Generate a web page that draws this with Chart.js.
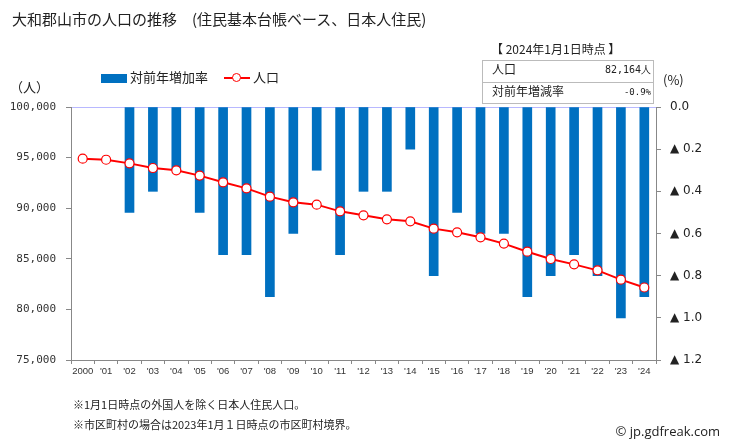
<!DOCTYPE html>
<html>
<head>
<meta charset="utf-8">
<script src="https://cdn.jsdelivr.net/npm/chart.js@4/dist/chart.umd.min.js"></script>
<style>
  html, body { margin: 0; padding: 0; background: #fff; }
  #wrap { position: relative; width: 729px; height: 446px; overflow: hidden; font-family: "Noto Sans CJK JP", "Noto Sans", sans-serif; color: #222; }
  #c { position: absolute; left: 0; top: 0; }
  .t { position: absolute; white-space: nowrap; line-height: 1; }
</style>
</head>
<body>
<div id="wrap">
  <canvas id="c" width="729" height="446"></canvas>
  <div class="t" style="left:12px; top:11px; font-size:15px; color:#222;">大和郡山市の人口の推移　(住民基本台帳ベース、日本人住民)</div>

  <div style="position:absolute; left:101px; top:74px; width:26px; height:9px; background:#0070c0;"></div>
  <div class="t" style="left:130px; top:70px; font-size:13px;">対前年増加率</div>
  <div style="position:absolute; left:224px; top:77px; width:26px; height:2px; background:#ff0000;"></div>
  <div style="position:absolute; left:232px; top:73px; width:7px; height:7px; border:1.5px solid #ff0000; border-radius:50%; background:#fff;"></div>
  <div class="t" style="left:253px; top:70px; font-size:13px;">人口</div>

  <div class="t" style="left:10px; top:80px; font-size:13px;">（人）</div>
  <div class="t" style="left:663px; top:73px; font-size:13px;">(%)</div>

  <div class="t" style="left:491px; top:43px; font-size:12px;">【 2024年1月1日時点 】</div>
  <div style="position:absolute; left:482px; top:60px; width:172px; height:44px; border:1px solid #bbb; box-sizing:border-box;"></div>
  <div style="position:absolute; left:482px; top:82px; width:172px; height:1px; background:#bbb;"></div>
  <div class="t" style="left:492px; top:63px; font-size:12px;">人口</div>
  <div class="t" style="left:600px; width:51px; text-align:right; top:65px; font-size:10px; font-family:'DejaVu Sans Mono', monospace;">82,164人</div>
  <div class="t" style="left:492px; top:85px; font-size:12px;">対前年増減率</div>
  <div class="t" style="left:600px; width:51px; text-align:right; top:88px; font-size:9px; font-family:'DejaVu Sans Mono', monospace;">-0.9%</div>

  <div class="t" style="left:73px; top:399px; font-size:11px;">※1月1日時点の外国人を除く日本人住民人口。</div>
  <div class="t" style="left:73px; top:419px; font-size:11px;">※市区町村の場合は2023年1月１日時点の市区町村境界。</div>
  <div class="t" style="right:9px; top:425px; font-size:13px; font-family:'Open Sans','DejaVu Sans',sans-serif;">© jp.gdfreak.com</div>
</div>
<script>
const years = ['2000', "'01", "'02", "'03", "'04", "'05", "'06", "'07", "'08", "'09", "'10", "'11", "'12", "'13", "'14", "'15", "'16", "'17", "'18", "'19", "'20", "'21", "'22", "'23", "'24"];
const population = [94890, 94790, 94430, 93970, 93740, 93220, 92560, 91960, 91140, 90580, 90350, 89690, 89300, 88900, 88700, 87980, 87620, 87120, 86500, 85700, 84980, 84450, 83860, 82940, 82164];
const changeRate = [null, null, -0.5, -0.4, -0.3, -0.5, -0.7, -0.7, -0.9, -0.6, -0.3, -0.7, -0.4, -0.4, -0.2, -0.8, -0.5, -0.6, -0.6, -0.9, -0.8, -0.7, -0.8, -1.0, -0.9];
const popTicks = { min: 75000, max: 100000, step: 5000 };
const rateTicks = { min: -1.2, max: 0, step: 0.2 };

new Chart(document.getElementById('c'), {
  data: {
    labels: years,
    datasets: [
      {
        type: 'line', label: '人口', data: population, yAxisID: 'y', order: 0,
        borderColor: '#ff0000', borderWidth: 2, tension: 0,
        pointRadius: 4.5, pointBackgroundColor: '#ffffff', pointBorderColor: '#ff0000', pointBorderWidth: 1.2
      },
      {
        type: 'bar', label: '対前年増加率', data: changeRate, yAxisID: 'y2', order: 1,
        backgroundColor: '#0070c0', barThickness: 9
      }
    ]
  },
  options: {
    responsive: false, animation: false,
    layout: { padding: { top: 107, left: 0, right: 0, bottom: 0 } },
    plugins: { legend: { display: false }, tooltip: { enabled: false } },
    scales: {
      x: {
        grid: { display: true, drawOnChartArea: false, offset: true, tickLength: 4, tickColor: '#888' },
        border: { color: '#888' },
        ticks: { autoSkip: false, maxRotation: 0, padding: 2, color: '#333', font: { family: 'Liberation Sans', size: 9.5 } },
        afterFit: s => { s.height = 86; }
      },
      y: {
        position: 'left', min: popTicks.min, max: popTicks.max,
        grid: { drawOnChartArea: false, tickLength: 5, tickColor: '#888' },
        border: { color: '#888' },
        ticks: { stepSize: popTicks.step, padding: 10, color: '#333', font: { family: 'DejaVu Sans Mono', size: 11 },
          callback: v => v.toLocaleString('en-US') },
        afterFit: s => { s.width = 71; }
      },
      y2: {
        position: 'right', min: rateTicks.min, max: rateTicks.max,
        grid: { drawOnChartArea: true, tickLength: 5, tickColor: '#888',
          color: ctx => (ctx.tick && Math.abs(ctx.tick.value) < 1e-9) ? '#b8b8ff' : 'rgba(0,0,0,0)' },
        border: { color: '#888' },
        ticks: { stepSize: rateTicks.step, padding: 9, color: '#222', font: { family: 'DejaVu Sans', size: 12 },
          callback: v => Math.abs(v) < 1e-9 ? '0.0' : '▲ ' + Math.abs(v).toFixed(1) },
        afterFit: s => { s.width = 73; }
      }
    }
  }
});
</script>
</body>
</html>
